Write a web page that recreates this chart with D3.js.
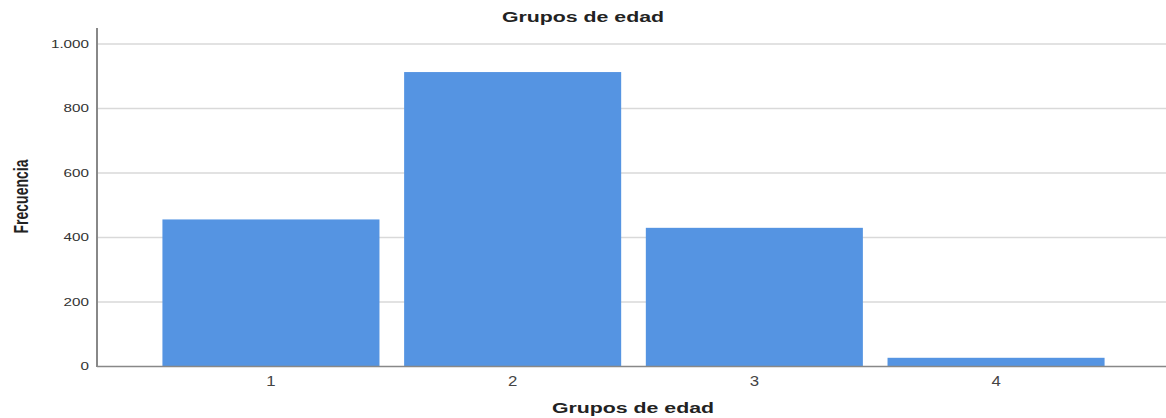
<!DOCTYPE html>
<html><head><meta charset="utf-8">
<script src="https://cdn.jsdelivr.net/npm/d3@7"></script>
<style>body{margin:0;background:#fff}svg{display:block}</style>
</head><body>
<script>
const categories = ["1","2","3","4"];
const values = [456, 913, 430, 27];
const yTicks = [0, 200, 400, 600, 800, 1000];
const yTickLabels = ["0","200","400","600","800","1.000"];
const title = "Grupos de edad";
const xTitle = "Grupos de edad";
const yTitle = "Frecuencia";

const W = 1166, H = 418;
const FONT = "Liberation Sans, Arial, sans-serif";
const svg = d3.select("body").append("svg").attr("width", W).attr("height", H);
const x0 = 97, x1 = 1166, yBase = 366.5, yTop = 44;
const x = d3.scaleBand().domain(categories).range([102, 1165]).paddingInner(0.102).paddingOuter(0.25);
const y = d3.scaleLinear().domain([0, 1000]).range([yBase, yTop]);

// gridlines
svg.append("g").selectAll("line").data(yTicks.filter(d => d > 0)).join("line")
  .attr("x1", x0).attr("x2", x1).attr("y1", d => y(d)).attr("y2", d => y(d))
  .attr("stroke", "#d9d9d9").attr("stroke-width", 1.3);

// bars
svg.append("g").selectAll("rect").data(values).join("rect")
  .attr("x", (d, i) => x(categories[i])).attr("width", x.bandwidth())
  .attr("y", d => y(d)).attr("height", d => yBase - y(d))
  .attr("fill", "#5594e2");

// y tick labels (horizontally stretched like the reference)
svg.append("g").selectAll("text").data(yTicks).join("text")
  .attr("transform", d => `translate(89,${y(d) + 3.5}) scale(1.45,1)`)
  .attr("text-anchor", "end").attr("font-family", FONT).attr("font-size", 10.5).attr("fill", "#333")
  .text((d, i) => yTickLabels[i]);
svg.append("line").attr("x1", x0).attr("x2", x0).attr("y1", 28).attr("y2", yBase + 0.5)
  .attr("stroke", "#888").attr("stroke-width", 2);

// x tick labels
svg.append("g").selectAll("text").data(categories).join("text")
  .attr("transform", d => `translate(${x(d) + x.bandwidth() / 2},${yBase + 19}) scale(1.2,1)`)
  .attr("text-anchor", "middle").attr("font-family", FONT).attr("font-size", 14).attr("fill", "#444")
  .text(d => d);
svg.append("line").attr("x1", x0).attr("x2", x1).attr("y1", yBase).attr("y2", yBase)
  .attr("stroke", "#888").attr("stroke-width", 1.5);

// titles
svg.append("text").attr("transform", "translate(583,22) scale(1.47,1)").attr("text-anchor", "middle")
  .attr("font-family", FONT).attr("font-weight", "bold").attr("font-size", 14.5).attr("fill", "#222").text(title);
svg.append("text").attr("transform", "translate(633,413) scale(1.47,1)").attr("text-anchor", "middle")
  .attr("font-family", FONT).attr("font-weight", "bold").attr("font-size", 14.5).attr("fill", "#222").text(xTitle);
svg.append("text").attr("transform", "translate(27.5,196.5) rotate(-90) scale(0.7,1)").attr("text-anchor", "middle")
  .attr("font-family", FONT).attr("font-weight", "bold").attr("font-size", 20).attr("fill", "#222").text(yTitle);
</script>
</body></html>
